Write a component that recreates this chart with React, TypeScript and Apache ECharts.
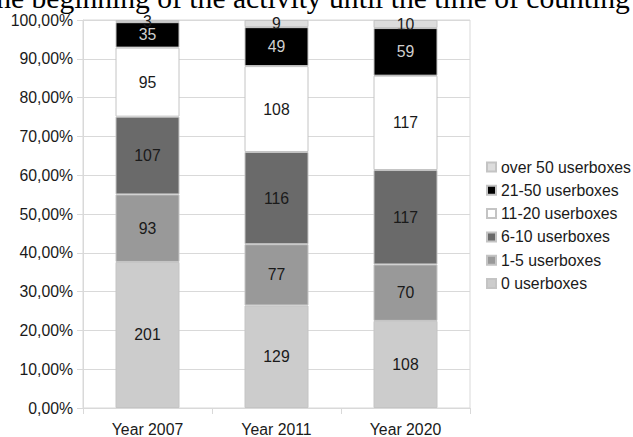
import React, { useEffect, useRef } from "react";
import * as echarts from "echarts";

const years = ["Year 2007", "Year 2011", "Year 2020"];
const groups = [
  "0 userboxes",
  "1-5 userboxes",
  "6-10 userboxes",
  "11-20 userboxes",
  "21-50 userboxes",
  "over 50 userboxes",
];
// counts per group, one entry per year
const zero = [201, 129, 108];
const oneToFive = [93, 77, 70];
const sixToTen = [107, 116, 117];
const elevenToTwenty = [95, 108, 117];
const twentyOneToFifty = [35, 49, 59];
const overFifty = [3, 9, 10];
const yTicks = [0, 0.1, 0.2, 0.3, 0.4, 0.5, 0.6, 0.7, 0.8, 0.9, 1];

const counts = [zero, oneToFive, sixToTen, elevenToTwenty, twentyOneToFifty, overFifty];
const fills = ["#cccccc", "#999999", "#6a6a6a", "#ffffff", "#000000", "#dddddd"];
const labelColors = ["#1a1a1a", "#1a1a1a", "#1a1a1a", "#1a1a1a", "#cfcfcf", "#1a1a1a"];

const FONT = "'Liberation Sans', Arial, sans-serif";
const FS = 15.8;

export default function App() {
  const ref = useRef<HTMLDivElement>(null);

  useEffect(() => {
    if (!ref.current) return;
    const chart = echarts.init(ref.current, undefined, { renderer: "svg" });
    const totals = years.map((_, i) => counts.reduce((s, arr) => s + arr[i], 0));

    const series = groups.map((name, g) => ({
      name,
      type: "bar" as const,
      stack: "all",
      barWidth: 64,
      data: counts[g].map((v, i) => ({ value: v / totals[i], count: v })),
      itemStyle: { color: fills[g], borderColor: "#c4c4c4", borderWidth: 1 },
      label: {
        show: true,
        position: "inside" as const,
        fontFamily: FONT,
        fontSize: FS,
        color: labelColors[g],
        formatter: (p: any) => String(p.data.count),
      },
    }));

    chart.setOption({
      animation: false,
      backgroundColor: "#ffffff",
      textStyle: { fontFamily: FONT },
      graphic: [
        {
          type: "text",
          left: -12,
          top: -17,
          style: {
            text: "the beginning of the activity until the time of counting",
            font: "29.6px 'Liberation Serif', 'Times New Roman', serif",
            fill: "#000000",
          },
        },
      ],
      grid: {
        left: 83,
        right: 163,
        top: 20,
        bottom: 28,
        show: true,
        borderColor: "#d9d9d9",
        borderWidth: 1,
        backgroundColor: "transparent",
      },
      legend: {
        orient: "vertical",
        left: 486,
        top: 159,
        padding: 0,
        itemWidth: 9,
        itemHeight: 9,
        itemGap: 7.3,
        icon: "rect",
        data: [...groups].reverse(),
        textStyle: { fontFamily: FONT, fontSize: FS, color: "#1a1a1a" },
      },
      xAxis: {
        type: "category",
        data: years,
        axisLine: { lineStyle: { color: "#d9d9d9" } },
        axisTick: { show: true, length: 6, lineStyle: { color: "#d9d9d9" } },
        axisLabel: { fontFamily: FONT, fontSize: FS, color: "#1a1a1a", margin: 13 },
      },
      yAxis: {
        type: "value",
        min: yTicks[0],
        max: yTicks[yTicks.length - 1],
        interval: 0.1,
        axisLine: { show: true, lineStyle: { color: "#d9d9d9" } },
        axisTick: { show: true, length: 6, lineStyle: { color: "#d9d9d9" } },
        splitLine: { lineStyle: { color: "#d9d9d9" } },
        axisLabel: {
          fontFamily: FONT,
          fontSize: FS,
          color: "#1a1a1a",
          margin: 10,
          formatter: (v: number) => (v * 100).toFixed(2).replace(".", ",") + "%",
        },
      },
      series,
    });

    return () => chart.dispose();
  }, []);

  return (
    <div
      ref={ref}
      style={{ position: "fixed", left: 0, top: 0, width: 633, height: 437 }}
    />
  );
}
